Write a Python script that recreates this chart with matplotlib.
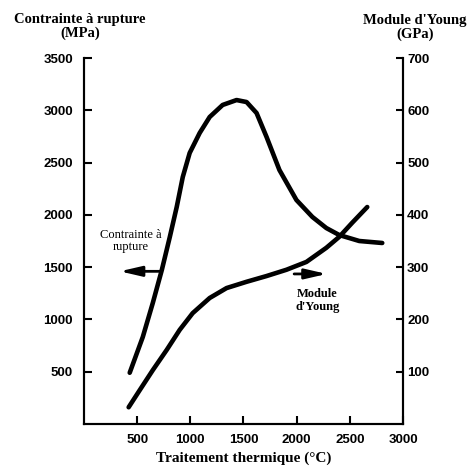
import matplotlib
matplotlib.use("Agg")
import matplotlib.pyplot as plt

# Contrainte a rupture (MPa), left axis
temp_rupture = [430, 553, 647, 732, 807, 872, 929, 994, 1088, 1182, 1304, 1435,
                1529, 1623, 1717, 1838, 1998, 2148, 2279, 2401, 2589, 2805]
rupture = [490, 832, 1157, 1473, 1788, 2075, 2362, 2592, 2783, 2936, 3051, 3098,
           3079, 2974, 2745, 2429, 2142, 1980, 1874, 1807, 1750, 1731]

# Module d'Young (GPa), right axis
temp_young = [420, 525, 647, 779, 900, 1022, 1182, 1341, 1529, 1717, 1904, 2092,
              2279, 2401, 2523, 2664]
young = [32, 65, 103, 142, 180, 212, 241, 260, 272, 283, 295, 310,
         337, 358, 385, 415]

x_ticks = [500, 1000, 1500, 2000, 2500, 3000]
left_ticks = [500, 1000, 1500, 2000, 2500, 3000, 3500]
right_ticks = [100, 200, 300, 400, 500, 600, 700]

serif = "Liberation Serif"
sans = "Liberation Sans"

fig = plt.figure(figsize=(4.7, 4.72), dpi=100)
ax = fig.add_axes([0.1787, 0.1017, 0.6787, 0.7754])
ax2 = ax.twinx()

ax.plot(temp_rupture, rupture, color="black", lw=3.3,
        solid_capstyle="round", solid_joinstyle="round")
ax2.plot(temp_young, young, color="black", lw=3.3,
         solid_capstyle="round", solid_joinstyle="round")

ax.set_xlim(0, 3000)
ax.set_ylim(0, 3500)
ax2.set_ylim(0, 700)

ax.set_xticks(x_ticks)
ax.set_yticks(left_ticks)
ax2.set_yticks(right_ticks)

for a in (ax, ax2):
    a.spines["top"].set_visible(False)
    for s in ("left", "right", "bottom"):
        a.spines[s].set_linewidth(1.5)

ax.tick_params(axis="both", direction="in", length=6, width=1.5, labelsize=9.5)
ax.tick_params(axis="y", pad=8)
ax.tick_params(axis="x", pad=7)
ax2.tick_params(axis="y", direction="in", length=5, width=1.5, labelsize=9.5, pad=3)
for lab in ax.get_xticklabels() + ax.get_yticklabels() + ax2.get_yticklabels():
    lab.set_fontfamily(sans)
    lab.set_fontweight("bold")

ax.set_xlabel("Traitement thermique (°C)", fontfamily=serif, fontweight="bold",
              fontsize=11, labelpad=4)

fig.text(0.170, 0.944, "Contrainte à rupture\n(MPa)", ha="center", va="center",
         fontfamily=serif, fontweight="bold", fontsize=10.5, linespacing=1.05)
fig.text(0.883, 0.941, "Module d'Young\n(GPa)", ha="center", va="center",
         fontfamily=serif, fontweight="bold", fontsize=10.5, linespacing=1.05)

# annotations
ax.annotate("", xy=(310, 1460), xytext=(745, 1460),
            arrowprops=dict(arrowstyle="-|>,head_length=1.3,head_width=0.3",
                            lw=2, color="black"))
ax.text(440, 1750, "Contrainte à\nrupture", ha="center", va="center",
        fontfamily=serif, fontsize=9, linespacing=1.1)

ax2.annotate("", xy=(2310, 287), xytext=(1950, 287),
             arrowprops=dict(arrowstyle="-|>,head_length=1.3,head_width=0.3",
                             lw=2, color="black"))
ax2.text(2195, 237, "Module\nd'Young", ha="center", va="center",
         fontfamily=serif, fontweight="bold", fontsize=9, linespacing=1.1)

fig.savefig("out.png", dpi=100)
